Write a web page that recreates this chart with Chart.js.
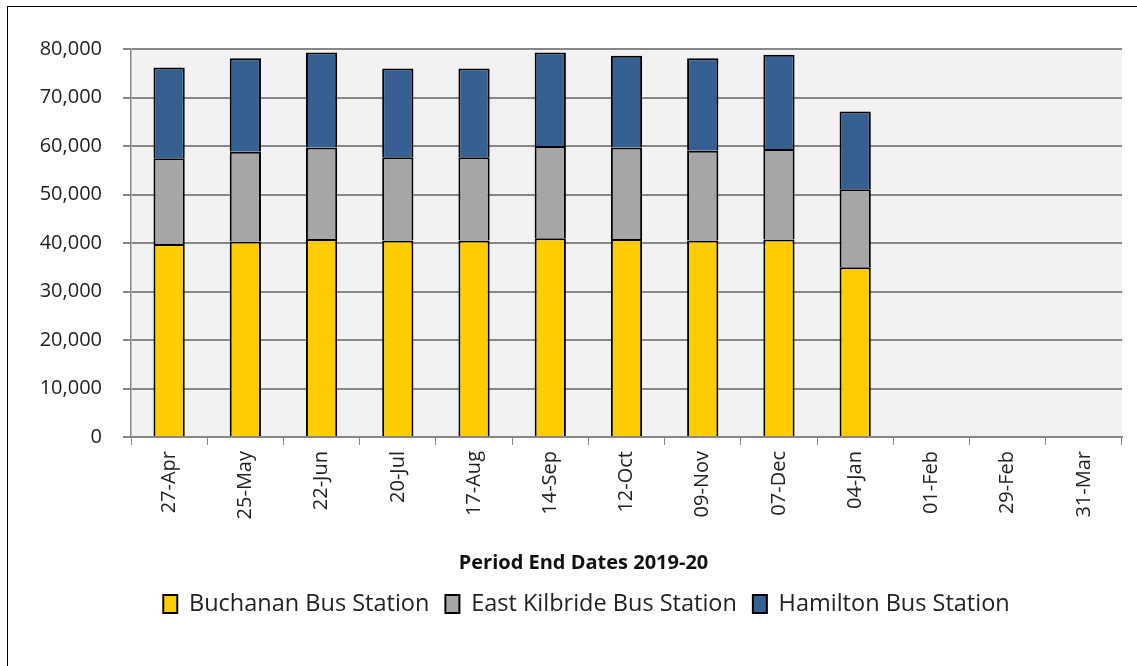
<!DOCTYPE html>
<html>
<head>
<meta charset="utf-8">
<script src="https://cdn.jsdelivr.net/npm/chart.js@4.4.1/dist/chart.umd.min.js"></script>
<style>
  html, body { margin: 0; padding: 0; background: #ffffff; }
  #wrap { position: relative; width: 1137px; height: 666px; overflow: hidden; }
  #frame { position: absolute; left: 7px; top: 6px; width: 1200px; height: 700px;
           border-left: 1px solid #000; border-top: 1px solid #000; }
  #c { position: absolute; left: 0; top: 0; }
</style>
</head>
<body>
<div id="wrap">
  <div id="frame"></div>
  <canvas id="c" width="1137" height="666"></canvas>
</div>
<script>
// Period end dates for 2019-20
const periods = ['27-Apr', '25-May', '22-Jun', '20-Jul', '17-Aug', '14-Sep', '12-Oct',
                 '09-Nov', '07-Dec', '04-Jan', '01-Feb', '29-Feb', '31-Mar'];

// Passenger counts per station (periods not yet reported are null)
const buchanan     = [39800, 40300, 40800, 40500, 40500, 41000, 40800, 40500, 40700, 35000, null, null, null];
const eastKilbride = [17700, 18500, 18900, 17200, 17200, 19000, 18900, 18500, 18700, 16100, null, null, null];
const hamilton     = [18700, 19300, 19600, 18300, 18300, 19300, 18900, 19100, 19400, 16000, null, null, null];

// Value axis ticks
const yMin = 0;
const yMax = 80000;
const yStep = 10000;

const axisGrey = '#878787';
const textColour = '#222222';
const uiFont = '"Open Sans", sans-serif';

const plotBackground = {
  id: 'plotBackground',
  beforeDraw(chart) {
    const { ctx, chartArea: a } = chart;
    ctx.save();
    ctx.fillStyle = '#f2f2f2';
    ctx.fillRect(a.left, a.top, a.right - a.left, a.bottom - a.top);
    ctx.restore();
  }
};

// Centre the caption and the legend on the whole frame rather than the plot column
const frameCentre = {
  id: 'frameCentre',
  afterLayout(chart) {
    const shift = (box, centre) => {
      if (!box) return;
      const dx = centre - (box.left + box.right) / 2;
      box.left += dx;
      box.right += dx;
    };
    shift(chart.titleBlock, 583.5);
    shift(chart.legend, 586.5);
  }
};

function series(label, data, colour) {
  return {
    label, data,
    backgroundColor: colour,
    borderColor: '#000000',
    borderWidth: 2,
    borderSkipped: 'start',
    barPercentage: 0.41,
    categoryPercentage: 1.0
  };
}

new Chart(document.getElementById('c'), {
  type: 'bar',
  data: {
    labels: periods,
    datasets: [
      series('Buchanan Bus Station', buchanan, '#ffcc00'),
      series('East Kilbride Bus Station', eastKilbride, '#a6a6a6'),
      series('Hamilton Bus Station', hamilton, '#376092')
    ]
  },
  options: {
    responsive: false,
    animation: false,
    layout: { padding: { left: 0, right: 15, top: 49, bottom: 40.25 } },
    plugins: {
      tooltip: { enabled: false },
      title: {
        display: true,
        position: 'bottom',
        weight: 500,
        text: 'Period End Dates 2019-20',
        color: '#111111',
        padding: { top: 14, bottom: 1.25 },
        font: { family: uiFont, size: 20, weight: 'bold', lineHeight: 1.2 }
      },
      legend: {
        position: 'bottom',
        labels: {
          boxWidth: 14,
          boxHeight: 18,
          padding: 16,
          color: textColour,
          font: { family: uiFont, size: 23.5 }
        }
      }
    },
    scales: {
      x: {
        stacked: true,
        offset: true,
        afterFit(scale) { scale.height = 100; },
        grid: {
          display: true,
          drawOnChartArea: false,
          drawTicks: true,
          tickLength: 8,
          color: axisGrey,
          lineWidth: 1,
          offset: true
        },
        border: { display: true, color: axisGrey, width: 2 },
        ticks: {
          autoSkip: false,
          maxRotation: 90,
          minRotation: 90,
          padding: 6,
          color: textColour,
          font: { family: uiFont, size: 20 }
        }
      },
      y: {
        stacked: true,
        min: yMin,
        max: yMax,
        afterFit(scale) { scale.width = 131; },
        grid: {
          color: axisGrey,
          lineWidth: 2,
          drawTicks: true,
          tickLength: 8
        },
        border: { display: true, color: axisGrey, width: 1.5 },
        ticks: {
          stepSize: yStep,
          padding: 21,
          color: textColour,
          font: { family: uiFont, size: 20 },
          callback: (v) => Number(v).toLocaleString('en-US')
        }
      }
    }
  },
  plugins: [plotBackground, frameCentre]
});
</script>
</body>
</html>
